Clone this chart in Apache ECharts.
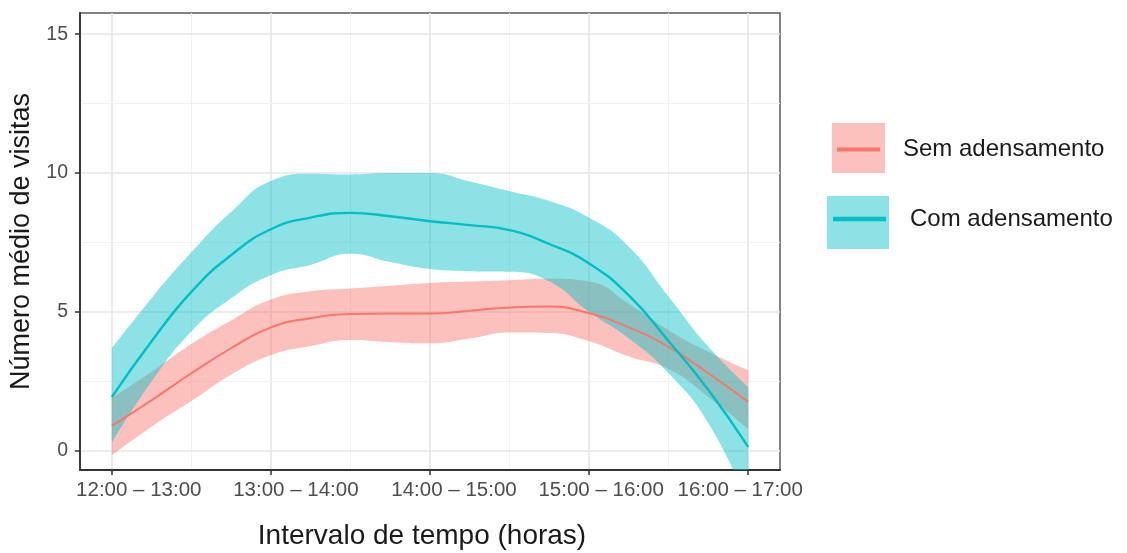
<!DOCTYPE html>
<html>
<head>
<meta charset="utf-8">
<script src="https://cdn.jsdelivr.net/npm/echarts@6/dist/echarts.min.js"></script>
<style>
  html, body { margin: 0; padding: 0; background: #ffffff; }
  #chart { width: 1127px; height: 553px; }
</style>
</head>
<body>
<div id="chart"></div>
<script>
// Time slots on the horizontal axis
const slots = ['12:00 – 13:00', '13:00 – 14:00', '14:00 – 15:00', '15:00 – 16:00', '16:00 – 17:00'];
// Positions (in slot units) at which the smoothed curves are sampled
const samplePos = [0, 0.25, 0.5, 0.75, 1, 1.25, 1.5, 1.75, 2, 2.25, 2.5, 2.75, 3, 3.25, 3.5, 3.75, 4];

// Sem adensamento: fitted mean and confidence band
const semMean  = [0.91, 1.83, 2.8, 3.7, 4.45, 4.78, 4.93, 4.95, 4.95, 5.05, 5.17, 5.2, 4.96, 4.45, 3.75, 2.8, 1.77];
const semLower = [-0.15, 0.88, 1.8, 2.75, 3.45, 3.78, 4.0, 3.92, 3.88, 4.05, 4.27, 4.25, 3.95, 3.4, 2.95, 1.95, 0.8];
const semUpper = [1.9, 2.85, 3.85, 4.7, 5.45, 5.75, 5.85, 5.95, 6.05, 6.1, 6.15, 6.2, 6.1, 5.3, 4.35, 3.57, 2.9];

// Com adensamento: fitted mean and confidence band
const comMean  = [1.94, 3.95, 5.73, 7.05, 7.98, 8.4, 8.57, 8.45, 8.27, 8.13, 7.95, 7.45, 6.75, 5.6, 3.95, 2.2, 0.15];
const comLower = [0.3, 2.5, 4.3, 5.5, 6.33, 6.7, 7.1, 6.8, 6.55, 6.47, 6.45, 6.1, 5.0, 4.05, 2.8, 1.0, -1.9];
const comUpper = [3.7, 5.5, 7.15, 8.6, 9.72, 9.98, 9.95, 10.0, 10.0, 9.7, 9.35, 9.0, 8.4, 7.35, 5.55, 3.75, 2.3];

// Axis ticks
const xTicks = [0, 1, 2, 3, 4];
const yTicks = [0, 5, 10, 15];
const xMinorGrid = [0.5, 1.5, 2.5, 3.5];
const yMinorGrid = [2.5, 7.5, 12.5];

// Horizontal nudge (px) of each time-slot label relative to its tick
const slotLabelShift = [27, 25, 24, 12, -8];

const RED = '#F8766D';
const TEAL = '#00BFC4';
const RED_BAND = 'rgba(248,118,109,0.45)';
const TEAL_BAND = 'rgba(0,191,196,0.45)';

// Rows are [value, position] so that the stack runs along the value dimension
const rows = (ys) => samplePos.map((x, i) => [ys[i], x]);
const widthRows = (lo, hi) => samplePos.map((x, i) => [hi[i] - lo[i], x]);
const ENCODE = { x: 1, y: 0 };

// Band drawn as an invisible lower edge plus a stacked width series
function bandSeries(name, stackId, lower, upper, color) {
  return [
    {
      name: name + ' (limite inferior)',
      type: 'line',
      stack: stackId,
      stackStrategy: 'all',
      smooth: 0.5,
      symbol: 'none',
      encode: ENCODE,
      lineStyle: { width: 0, opacity: 0 },
      data: rows(lower),
      z: 2
    },
    {
      name: name,
      type: 'line',
      stack: stackId,
      stackStrategy: 'all',
      smooth: 0.5,
      symbol: 'none',
      encode: ENCODE,
      lineStyle: { width: 0, opacity: 0 },
      itemStyle: { color: color },
      areaStyle: { color: color, opacity: 1 },
      data: widthRows(lower, upper),
      z: 2
    }
  ];
}

function meanSeries(name, values, color, width) {
  return {
    name: name,
    type: 'line',
    smooth: 0.5,
    symbol: 'none',
    encode: ENCODE,
    itemStyle: { color: color },
    lineStyle: { color: color, width: width },
    data: rows(values),
    z: 3
  };
}

// Panel grid lines (major and minor)
const majorLine = { color: '#e6e6e6', width: 1.6, type: 'solid' };
const minorLine = { color: '#f1f1f1', width: 1, type: 'solid' };
const gridLines = []
  .concat(xTicks.map(v => ({ xAxis: v, lineStyle: majorLine })))
  .concat(xMinorGrid.map(v => ({ xAxis: v, lineStyle: minorLine })))
  .concat(yTicks.map(v => ({ yAxis: v, lineStyle: majorLine })))
  .concat(yMinorGrid.map(v => ({ yAxis: v, lineStyle: minorLine })));

const gridSeries = {
  name: 'grade',
  type: 'line',
  data: [],
  silent: true,
  z: 0,
  markLine: {
    silent: true,
    z: 0,
    symbol: ['none', 'none'],
    label: { show: false },
    emphasis: { disabled: true },
    animation: false,
    data: gridLines
  }
};

const slotRich = {};
slotLabelShift.forEach((s, i) => {
  slotRich['s' + i] = {
    fontSize: 20.5,
    color: '#4d4d4d',
    fontFamily: 'Liberation Sans, Arial, sans-serif',
    padding: s >= 0 ? [0, 0, 0, 2 * s] : [0, -2 * s, 0, 0]
  };
});

const chart = echarts.init(document.getElementById('chart'), null, { renderer: 'canvas' });

chart.setOption({
  animation: false,
  backgroundColor: '#ffffff',
  textStyle: { fontFamily: 'Liberation Sans, Arial, sans-serif' },
  grid: {
    left: 80, right: 347, top: 13, bottom: 83,
    show: true,
    borderColor: '#5a5a5a',
    borderWidth: 1.5,
    backgroundColor: 'transparent',
    containLabel: false,
    outerBoundsMode: 'none'
  },
  xAxis: {
    type: 'value',
    min: -0.2,
    max: 4.2,
    name: 'Intervalo de tempo (horas)',
    nameLocation: 'middle',
    nameGap: 52,
    nameTextStyle: { fontSize: 28, color: '#1a1a1a', padding: [0, 16, 0, 0] },
    axisLine: { show: true, onZero: false, lineStyle: { color: '#333333', width: 1.8 } },
    axisTick: { show: true, customValues: xTicks, length: 5, lineStyle: { color: '#333333', width: 1.5 } },
    axisLabel: {
      show: true,
      customValues: xTicks,
      margin: 10,
      formatter: (v) => {
        const i = Math.round(v);
        return '{s' + i + '|' + slots[i] + '}';
      },
      rich: slotRich
    },
    splitLine: { show: false },
    minorSplitLine: { show: false }
  },
  yAxis: {
    type: 'value',
    min: -0.68,
    max: 15.76,
    name: 'Número médio de visitas',
    nameLocation: 'middle',
    nameGap: 42,
    nameTextStyle: { fontSize: 27, color: '#1a1a1a' },
    axisLine: { show: true, onZero: false, lineStyle: { color: '#333333', width: 1.8 } },
    axisTick: { show: true, customValues: yTicks, length: 5, lineStyle: { color: '#333333', width: 1.5 } },
    axisLabel: {
      show: true,
      customValues: yTicks,
      margin: 12,
      fontSize: 19.5,
      color: '#4d4d4d'
    },
    splitLine: { show: false }
  },
  legend: [
    {
      data: [{ name: 'IC Sem adensamento', icon: 'rect', itemStyle: { color: RED_BAND, opacity: 1 } }],
      left: 832, top: 123, itemWidth: 53, itemHeight: 50, padding: 0,
      formatter: () => '', textStyle: { fontSize: 1 }, selectedMode: false
    },
    {
      data: [{ name: 'IC Com adensamento', icon: 'rect', itemStyle: { color: TEAL_BAND, opacity: 1 } }],
      left: 827, top: 196, itemWidth: 62, itemHeight: 53, padding: 0,
      formatter: () => '', textStyle: { fontSize: 1 }, selectedMode: false
    },
    {
      data: [{ name: 'Sem adensamento', icon: 'rect', itemStyle: { color: RED, opacity: 1 } }],
      left: 837, top: 135.5, itemWidth: 43, itemHeight: 4, padding: 0,
      textStyle: { fontSize: 24, lineHeight: 28, color: '#1a1a1a', padding: [0, 0, 0, 18] },
      selectedMode: false
    },
    {
      data: [{ name: 'Com adensamento', icon: 'rect', itemStyle: { color: TEAL, opacity: 1 } }],
      left: 833, top: 205, itemWidth: 53, itemHeight: 4.5, padding: 0,
      textStyle: { fontSize: 24, lineHeight: 28, color: '#1a1a1a', padding: [0, 0, 0, 19] },
      selectedMode: false
    }
  ],
  series: [gridSeries]
    .concat(bandSeries('IC Sem adensamento', 'sem', semLower, semUpper, RED_BAND))
    .concat([meanSeries('Sem adensamento', semMean, RED, 2)])
    .concat(bandSeries('IC Com adensamento', 'com', comLower, comUpper, TEAL_BAND))
    .concat([meanSeries('Com adensamento', comMean, TEAL, 2.4)])
});
</script>
</body>
</html>
